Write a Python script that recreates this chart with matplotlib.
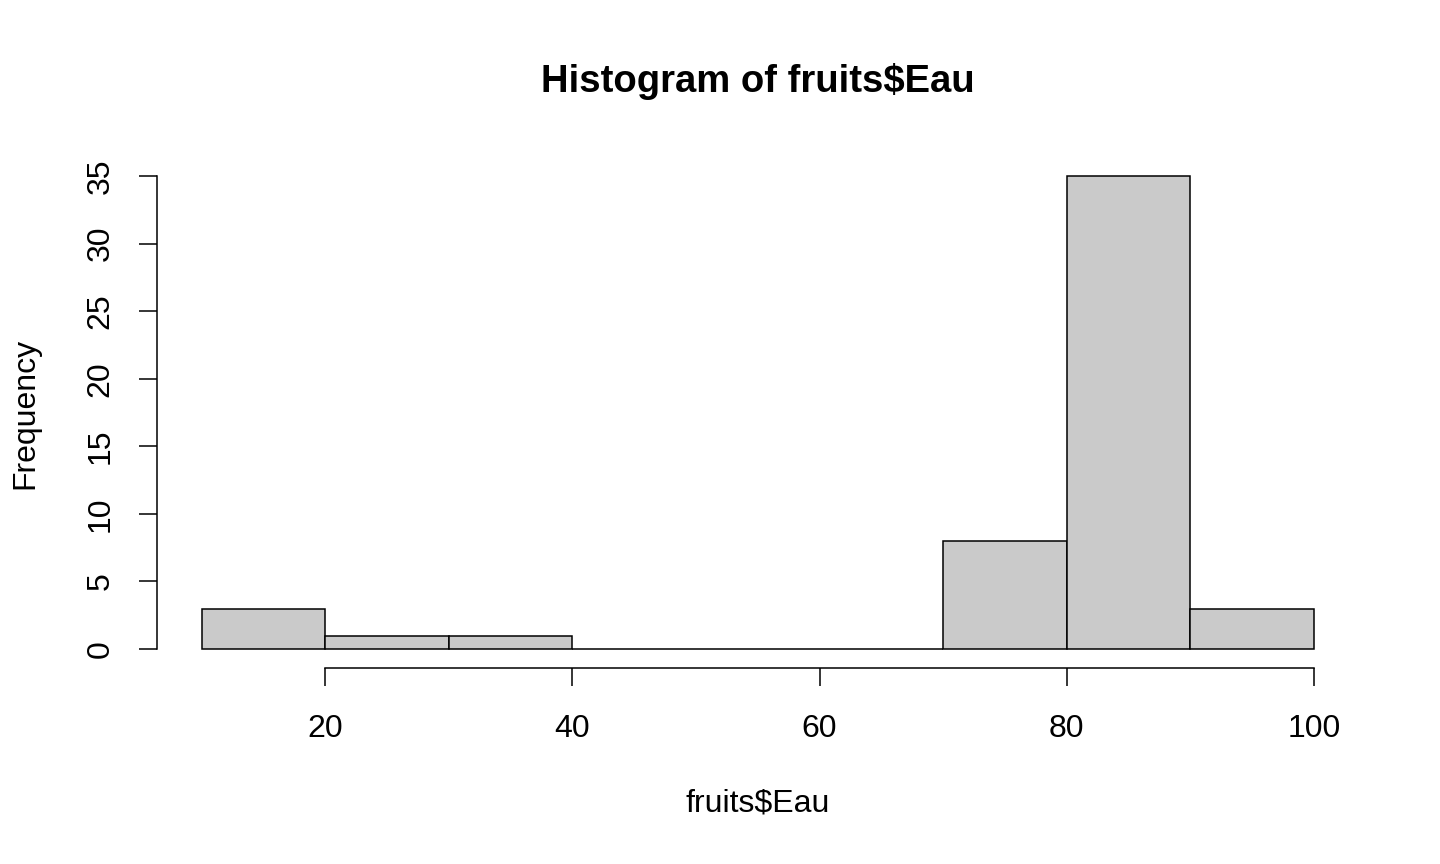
import numpy as np
import matplotlib
matplotlib.use('Agg')
import matplotlib.pyplot as plt

plt.rcParams['font.family'] = ['Liberation Sans', 'DejaVu Sans']

# histogram of fruits$Eau: bin edges and counts
edges = [10, 20, 30, 40, 50, 60, 70, 80, 90, 100]
counts = [3, 1, 1, 0, 0, 0, 8, 35, 3]
xticks = [20, 40, 60, 80, 100]
yticks = [0, 5, 10, 15, 20, 25, 30, 35]

W, H = 1440, 864
fig = plt.figure(figsize=(W / 100, H / 100), dpi=100)
# axes box in pixels (R style 4% extension)
x0, x1, ytop, ybot = 157, 1358.5, 157, 668
ax = fig.add_axes([x0 / W, 1 - ybot / H, (x1 - x0) / W, (ybot - ytop) / H])

left = np.array(edges[:-1])
widths = np.diff(edges)
ax.bar(left, counts, width=widths, align='edge', color='#CACACA',
       edgecolor='black', linewidth=1.1)

ax.set_xlim(10 - 0.04 * 90, 100 + 0.04 * 90)
ax.set_ylim(-0.04 * 35, 35 + 0.04 * 35)

for s in ['top', 'right']:
    ax.spines[s].set_visible(False)
ax.spines['left'].set_bounds(0, 35)
ax.spines['bottom'].set_bounds(20, 100)
for s in ['left', 'bottom']:
    ax.spines[s].set_linewidth(1.1)

ax.set_xticks(xticks)
ax.set_yticks(yticks)
ax.set_yticklabels([str(v) for v in yticks], rotation=90, va='center')
ax.tick_params(axis='both', direction='out', length=13, width=1.1,
               labelsize=23, colors='black')
ax.tick_params(axis='x', pad=20)
ax.tick_params(axis='y', pad=17)

fig.text(758 / W, 1 - 81 / H, 'Histogram of fruits$Eau', ha='center', va='center',
         fontsize=27.5, fontweight='bold')
fig.text(758 / W, 1 - 803 / H, 'fruits$Eau', ha='center', va='center', fontsize=23)
fig.text(25 / W, 1 - 413 / H, 'Frequency', ha='center', va='center',
         fontsize=23, rotation=90)

fig.savefig('out.png', dpi=100, facecolor='white')
